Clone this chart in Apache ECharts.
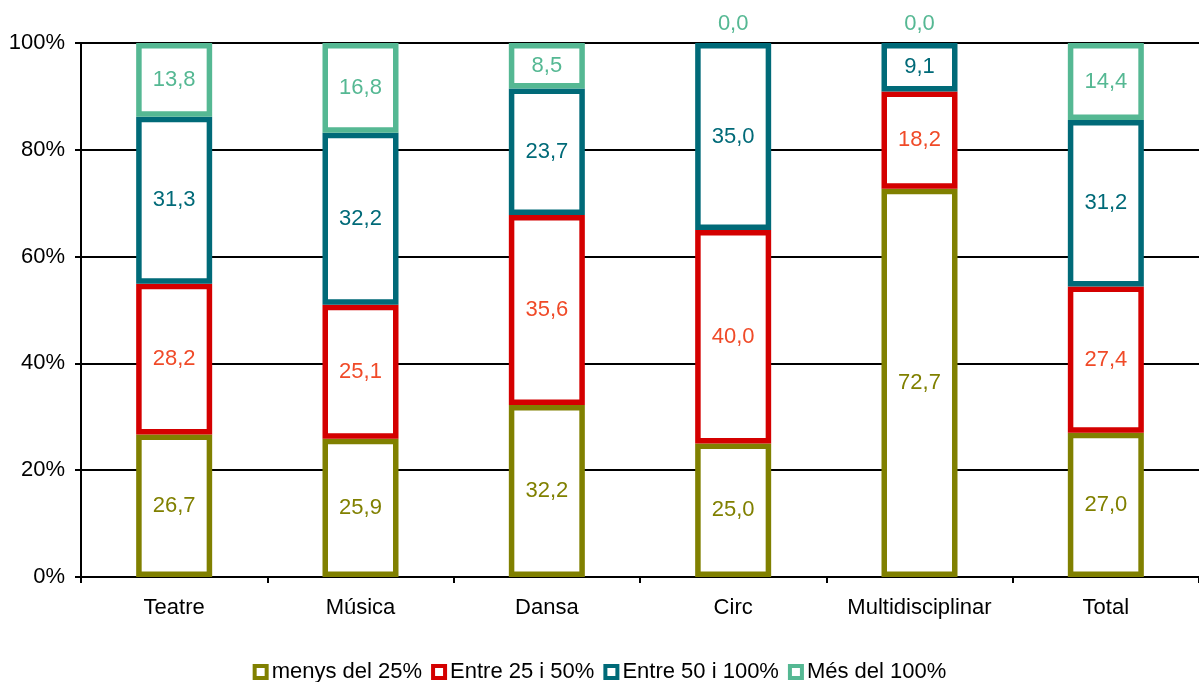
<!DOCTYPE html>
<html>
<head>
<meta charset="utf-8">
<script src="https://cdn.jsdelivr.net/npm/echarts@6/dist/echarts.min.js"></script>
<style>
html,body{margin:0;padding:0;background:#fff;}
#chart{width:1199px;height:682px;}
</style>
</head>
<body>
<div id="chart"></div>
<script>
const categories = ['Teatre', 'Música', 'Dansa', 'Circ', 'Multidisciplinar', 'Total'];
const seriesNames = ['menys del 25%', 'Entre 25 i 50%', 'Entre 50 i 100%', 'Més del 100%'];
const menys25 = [26.7, 25.9, 32.2, 25.0, 72.7, 27.0];
const entre25_50 = [28.2, 25.1, 35.6, 40.0, 18.2, 27.4];
const entre50_100 = [31.3, 32.2, 23.7, 35.0, 9.1, 31.2];
const mes100 = [13.8, 16.8, 8.5, 0.0, 0.0, 14.4];
const yTicks = [0, 20, 40, 60, 80, 100];

const borderColors = ['#808000', '#D40000', '#006A78', '#55B893'];
const labelColors = ['#808000', '#F04A28', '#006A78', '#55B893'];
const values = [menys25, entre25_50, entre50_100, mes100];
const FONT = '"Liberation Sans", Arial, sans-serif';

const fmt = v => v.toFixed(1).replace('.', ',');

const chart = echarts.init(document.getElementById('chart'));
const series = values.map((arr, i) => ({
  name: seriesNames[i],
  type: 'bar',
  stack: 'total',
  barWidth: 76,
  itemStyle: { color: '#ffffff', borderColor: borderColors[i], borderWidth: 5.5 },
  label: {
    show: true,
    position: 'inside',
    color: labelColors[i],
    fontSize: 22,
    fontFamily: FONT,
    formatter: p => fmt(p.value)
  },
  data: arr.map(v => (v === 0
    ? { value: v, itemStyle: { borderWidth: 0, borderColor: 'rgba(0,0,0,0)', color: 'rgba(0,0,0,0)' }, label: { position: 'top', distance: 8 } }
    : v))
}));

chart.setOption({
  animation: false,
  textStyle: { fontFamily: FONT },
  grid: { left: 81, top: 43, bottom: 105, width: 1130 },
  legend: {
    top: 656,
    left: 'center',
    icon: 'rect',
    itemWidth: 12,
    itemHeight: 12,
    itemGap: 9,
    itemStyle: { color: '#ffffff', borderWidth: 4 },
    textStyle: { fontSize: 22, color: '#000', fontFamily: FONT },
    data: seriesNames
  },
  xAxis: {
    type: 'category',
    data: categories,
    axisLine: { lineStyle: { color: '#000', width: 2 } },
    axisTick: { show: true, length: 6, lineStyle: { color: '#000', width: 2 } },
    axisLabel: { color: '#000', fontSize: 22, fontFamily: FONT, margin: 20, interval: 0 }
  },
  yAxis: {
    type: 'value',
    min: yTicks[0],
    max: yTicks[yTicks.length - 1],
    interval: 20,
    axisLine: { show: true, lineStyle: { color: '#000', width: 2 } },
    axisTick: { show: true, length: 6, lineStyle: { color: '#000', width: 2 } },
    splitLine: { show: true, lineStyle: { color: '#000', width: 2 } },
    axisLabel: { color: '#000', fontSize: 22, fontFamily: FONT, margin: 16, formatter: '{value}%' }
  },
  series: series
});
</script>
</body>
</html>
